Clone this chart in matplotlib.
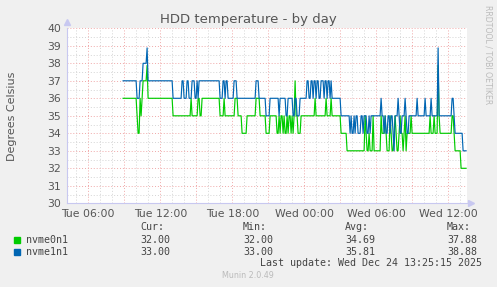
import numpy as np
import matplotlib
matplotlib.use("Agg")
import matplotlib.pyplot as plt

# 5-minute samples, run-length encoded (value, number of samples)
nvme0n1_vals = [36, 35, 34, 36, 35, 36, 37, 37.88, 36, 35, 36, 35, 36, 35, 36, 35, 36, 35, 36, 35,
                34, 35, 36, 35, 34, 35, 34, 35, 34, 35, 34, 35, 34, 35, 34, 35, 34, 35, 34, 35,
                37, 35, 34, 35, 36, 35, 36, 35, 36, 35, 34, 33, 35, 34, 33, 34, 33, 35, 33, 35,
                34, 35, 34, 33, 35, 34, 33, 34, 35, 34, 33, 34, 35, 34, 33, 34, 35, 33, 34, 35,
                34, 35, 34, 35, 34, 37.88, 35, 34, 35, 34, 33, 32]
nvme0n1_runs = [14, 1, 2, 1, 1, 1, 4, 1, 25, 18, 1, 6, 2, 2, 18, 4, 1, 10, 3, 4,
                5, 9, 4, 6, 4, 7, 2, 1, 1, 2, 1, 1, 2, 1, 1, 2, 1, 1, 1, 1,
                1, 2, 3, 14, 1, 10, 1, 4, 1, 9, 6, 18, 1, 1, 2, 1, 3, 1, 7, 1,
                3, 1, 1, 3, 1, 1, 2, 1, 1, 1, 2, 1, 1, 2, 1, 1, 1, 1, 4, 1,
                18, 1, 3, 1, 3, 1, 1, 12, 2, 1, 6, 6]

nvme1n1_vals = [37, 36, 37, 38, 38.88, 37, 36, 37, 36, 37, 36, 37, 36, 37, 36, 37, 36, 37, 36, 37,
                36, 37, 36, 37, 36, 35, 36, 35, 36, 35, 36, 35, 36, 35, 36, 37, 36, 37, 36, 37,
                36, 37, 36, 37, 36, 37, 36, 37, 36, 37, 36, 35, 34, 35, 34, 35, 34, 35, 34, 35,
                34, 35, 34, 35, 34, 35, 36, 35, 34, 35, 34, 35, 34, 35, 34, 33, 35, 36, 35, 34,
                35, 36, 35, 34, 35, 36, 35, 36, 35, 36, 35, 38.88, 35, 36, 35, 34, 33]
nvme1n1_runs = [14, 3, 3, 4, 1, 25, 9, 2, 3, 2, 3, 3, 2, 1, 1, 21, 3, 2, 1, 2,
                6, 3, 19, 3, 7, 4, 9, 1, 6, 2, 5, 2, 2, 3, 7, 2, 2, 2, 1, 2,
                1, 2, 2, 3, 1, 2, 1, 2, 1, 1, 9, 9, 1, 1, 2, 1, 1, 2, 3, 2,
                1, 3, 2, 1, 1, 10, 1, 2, 1, 1, 2, 2, 1, 2, 1, 1, 3, 1, 1, 2,
                3, 1, 1, 2, 8, 1, 7, 1, 5, 1, 6, 1, 13, 2, 1, 8, 4]

# time axis in hours since Tue 00:00
start_hour = 8.9
step_hour = 5 / 60
view = (4.225, 37.558)
tick_hours = [6, 12, 18, 24, 30, 36]
tick_labels = ["Tue 06:00", "Tue 12:00", "Tue 18:00", "Wed 00:00", "Wed 06:00", "Wed 12:00"]

legend_names = ["nvme0n1", "nvme1n1"]
colors = ["#00CC00", "#0066B3"]
stats = [["32.00", "32.00", "34.69", "37.88"],
         ["33.00", "33.00", "35.81", "38.88"]]
stat_heads = ["Cur:", "Min:", "Avg:", "Max:"]

green = np.repeat(nvme0n1_vals, nvme0n1_runs)
blue = np.repeat(nvme1n1_vals, nvme1n1_runs)
tg = start_hour + step_hour * np.arange(len(green))
tb = start_hour + step_hour * np.arange(len(blue))

W, H = 497, 287
fig = plt.figure(figsize=(W / 100, H / 100), dpi=100, facecolor="#F0F0F0")
ax = fig.add_axes([67 / W, (H - 203.3) / H, 400 / W, 175 / H])
ax.set_facecolor("white")

ax.set_xlim(*view)
ax.set_ylim(30, 40)

# grid: minor gray, major pink, both dotted
for h in np.arange(5, 38):
    col = "#F0A8A8" if h % 3 == 0 else "#D4D4D4"
    ax.axvline(h, color=col, lw=0.7, ls=(0, (1, 2)), zorder=1)
for v in np.arange(30.5, 40.01, 0.5):
    col = "#F0A8A8" if v == int(v) else "#D4D4D4"
    ax.axhline(v, color=col, lw=0.7, ls=(0, (1, 2)), zorder=1)

ax.plot(tg, green, color=colors[0], lw=0.85, zorder=3)
ax.plot(tb, blue, color=colors[1], lw=0.85, zorder=3)

for s in ["top", "right"]:
    ax.spines[s].set_visible(False)
for s in ["left", "bottom"]:
    ax.spines[s].set_color("#C8C8F0")
    ax.spines[s].set_linewidth(0.8)
ax.plot([1.01], [0], marker=">", color="#C8C8F0", ms=4, transform=ax.transAxes, clip_on=False)
ax.plot([0], [1.035], marker="^", color="#C8C8F0", ms=4, transform=ax.transAxes, clip_on=False)

ax.set_xticks(tick_hours)
ax.set_xticklabels(tick_labels)
ax.set_yticks(range(30, 41))
ax.tick_params(length=0, labelsize=7.8, labelcolor="#555555", pad=4)

fig.text(0.5, 1 - 20 / H, "HDD temperature - by day", ha="center", va="center",
         fontsize=9.5, color="#555555")
fig.text(12 / W, 1 - 116 / H, "Degrees Celsius", rotation=90, ha="center", va="center",
         fontsize=8, color="#555555")
fig.text(488 / W, 1 - 5 / H, "RRDTOOL / TOBI OETIKER", rotation=270, ha="center", va="top",
         fontsize=5.6, color="#BBBBBB")

mono = "DejaVu Sans Mono"
cols_x = [140, 243, 345, 447]
for x, head in zip(cols_x, stat_heads):
    fig.text(x / W, 1 - 227 / H, head, ha="left", va="center", family=mono, fontsize=7.2, color="#444444")
for row, (name, col, vals) in enumerate(zip(legend_names, colors, stats)):
    y = 240 + row * 11.8
    fig.patches.append(plt.Rectangle((14 / W, 1 - (y + 3) / H), 6 / W, 6 / H,
                                     transform=fig.transFigure, color=col))
    fig.text(26 / W, 1 - y / H, name, ha="left", va="center", family=mono, fontsize=7.2, color="#444444")
    for x, v in zip(cols_x, vals):
        fig.text(x / W, 1 - y / H, v, ha="left", va="center", family=mono, fontsize=7.2, color="#444444")
fig.text(482 / W, 1 - 263.5 / H, "Last update: Wed Dec 24 13:25:15 2025", ha="right", va="center",
         family=mono, fontsize=7.2, color="#444444")
fig.text(248 / W, 1 - 276 / H, "Munin 2.0.49", ha="center", va="center", fontsize=5.8, color="#BBBBBB")

fig.savefig("out.png", dpi=100, facecolor=fig.get_facecolor())
